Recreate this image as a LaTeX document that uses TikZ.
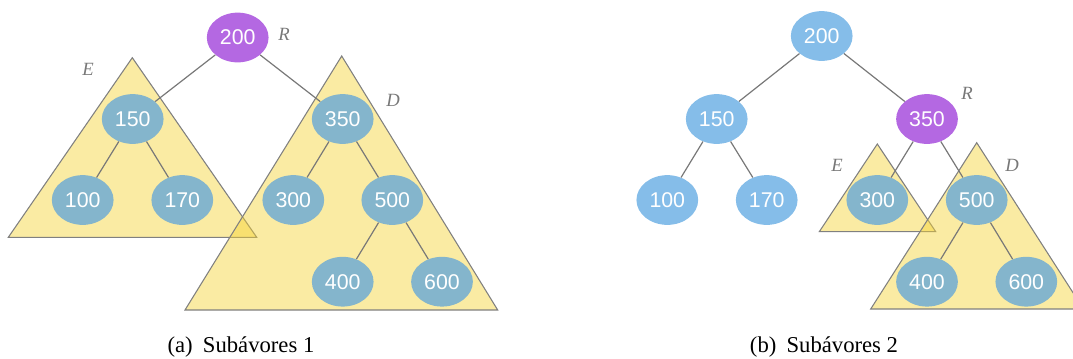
\documentclass[tikz,border=0pt]{standalone}
\usepackage{fontspec}
\setmainfont{Liberation Serif}
\newfontfamily\numfont{Liberation Sans}
\usetikzlibrary{shapes.geometric}
\definecolor{purp}{RGB}{180,104,226}
\definecolor{nodeblue}{RGB}{133,189,233}
\definecolor{nodegb}{RGB}{132,181,204}
\definecolor{triyel}{RGB}{245,210,50}
\definecolor{edgegray}{RGB}{120,120,120}
\definecolor{trigray}{RGB}{128,128,128}
\definecolor{lblgray}{RGB}{120,120,120}
\begin{document}
\begin{tikzpicture}[x=0.75pt,y=-0.75pt,
  bst/.style={ellipse, minimum width=46.3pt, minimum height=37.3pt, inner sep=0pt, text=white, font=\numfont\fontsize{16}{16}\selectfont},
  inn/.style={bst, fill=nodegb},
  outer/.style={bst, fill=nodeblue},
  rootn/.style={bst, fill=purp},
  edge/.style={draw=edgegray, line width=0.9pt},
  tri/.style={draw=trigray, line width=0.8pt, fill=triyel, fill opacity=0.45},
  lbl/.style={text=lblgray, inner sep=0pt, font=\itshape\fontsize{14}{14}\selectfont},
  capt/.style={anchor=base, inner sep=0pt, font=\fontsize{17}{17}\selectfont}]
\useasboundingbox (0,0) rectangle (1073,358);
\clip (0,0) rectangle (1073,358);
% ---------- (a) ----------
\draw[tri] (132.3,57.7) -- (256.7,237.3) -- (8.3,237.3) -- cycle;
\draw[tri] (341.7,56) -- (497.7,310) -- (185,310) -- cycle;
\node[rootn] (a200) at (237.7,37.5) {200};
\node[inn] (a150) at (132.7,119) {150};
\node[inn] (a100) at (82.7,200) {100};
\node[inn] (a170) at (182.3,200) {170};
\node[inn] (a350) at (342.7,119) {350};
\node[inn] (a300) at (293.3,200) {300};
\node[inn] (a500) at (392.3,200) {500};
\node[inn] (a400) at (342.7,281.7) {400};
\node[inn] (a600) at (442,281.7) {600};
\draw[edge] (a200) -- (a150);
\draw[edge] (a200) -- (a350);
\draw[edge] (a150) -- (a100);
\draw[edge] (a150) -- (a170);
\draw[edge] (a350) -- (a300);
\draw[edge] (a350) -- (a500);
\draw[edge] (a500) -- (a400);
\draw[edge] (a500) -- (a600);
\node[lbl] (aR) at (284,34) {R};
\node[lbl] (aE) at (88,69) {E};
\node[lbl] (aD) at (393,100) {D};
\node[capt] (capa) at (241,352.3) {(a)\hspace{0.45em}Subávores 1};
% ---------- (b) ----------
\draw[tri] (877.3,144) -- (935.7,231.7) -- (819.3,231.7) -- cycle;
\draw[tri] (976.7,142.7) -- (1083.5,309) -- (870.7,309) -- cycle;
\node[outer] (b200) at (821.7,36) {200};
\node[outer] (b150) at (716.7,119) {150};
\node[outer] (b100) at (667.3,200) {100};
\node[outer] (b170) at (766.7,200) {170};
\node[rootn] (b350) at (927,119) {350};
\node[inn] (b300) at (877.3,200) {300};
\node[inn] (b500) at (976.7,200) {500};
\node[inn] (b400) at (927,281.7) {400};
\node[inn] (b600) at (1026.3,281.7) {600};
\draw[edge] (b200) -- (b150);
\draw[edge] (b200) -- (b350);
\draw[edge] (b150) -- (b100);
\draw[edge] (b150) -- (b170);
\draw[edge] (b350) -- (b300);
\draw[edge] (b350) -- (b500);
\draw[edge] (b500) -- (b400);
\draw[edge] (b500) -- (b600);
\node[lbl] (bR) at (967,93) {R};
\node[lbl] (bE) at (837,165) {E};
\node[lbl] (bD) at (1012,165) {D};
\node[capt] (capb) at (824,352.3) {(b)\hspace{0.45em}Subávores 2};
\end{tikzpicture}
\end{document}
